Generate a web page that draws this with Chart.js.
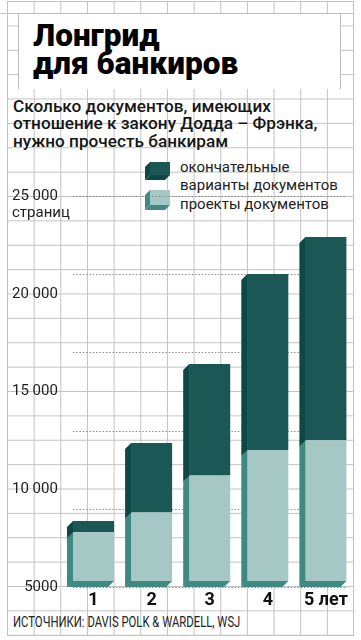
<!DOCTYPE html>
<html><head><meta charset="utf-8">
<script src="https://cdn.jsdelivr.net/npm/chart.js@4.4.1/dist/chart.umd.min.js"></script>
<style>
html,body{margin:0;padding:0;background:#fff;}
body{width:361px;height:640px;position:relative;overflow:hidden;font-family:Roboto,"DejaVu Sans",sans-serif;color:#1a1a1a;}
#paper{position:absolute;left:6.67px;top:1px;width:346.67px;height:634px;
 background-image:linear-gradient(to right,#c2c2c2 1px,transparent 1px),linear-gradient(to bottom,#c2c2c2 1px,transparent 1px);
 background-size:26.667px 24.385px;border-right:1px solid #c2c2c2;border-bottom:1px solid #c2c2c2;}
#hline{position:absolute;left:0;top:13px;width:354px;height:1px;background:#c2c2c2;}
#titlebox{position:absolute;left:18px;top:13px;width:321px;height:75px;background:#fff;border:1.5px solid #bdbdbd;border-bottom:none;}
#title{position:absolute;left:33px;top:22px;font-size:31.5px;font-weight:900;line-height:28px;color:#000;white-space:nowrap;}
#subtitle{position:absolute;left:13px;top:97.6px;font-size:17.2px;font-weight:500;line-height:17.5px;white-space:nowrap;color:#161616;}
.lgt{position:absolute;left:180px;font-size:15px;line-height:15px;white-space:nowrap;color:#222;}
.sw{position:absolute;left:145px;}
#source{position:absolute;left:13px;top:615px;font-size:14px;line-height:14px;white-space:nowrap;color:#222;transform-origin:0 0;}
#c{position:absolute;left:0;top:0;}
</style></head>
<body>
<div id="paper"></div>
<div id="hline"></div>
<div id="titlebox"></div>
<div id="title">Лонгрид<br>для банкиров</div>
<div id="subtitle">Сколько документов, имеющих<br>отношение к закону Додда – Фрэнка,<br>нужно прочесть банкирам</div>
<svg class="sw" style="top:162px" width="26" height="19"><polygon points="5,0 0,5 0,18 5,13" fill="#0d4845"/><polygon points="0,18 20,18 25,13 5,13" fill="#0d4845"/><rect x="5" y="0" width="20" height="13" fill="#1b5755"/></svg>
<svg class="sw" style="top:190px" width="26" height="21"><polygon points="5,0 0,5 0,20 5,15" fill="#3e8a83"/><polygon points="0,20 20,20 25,15 5,15" fill="#3e8a83"/><rect x="5" y="0" width="20" height="15" fill="#a6c8c5"/></svg>
<div class="lgt" style="top:160.4px">окончательные</div>
<div class="lgt" style="top:178.4px">варианты документов</div>
<div class="lgt" style="top:197.4px">проекты документов</div>
<div id="source">ИСТОЧНИКИ: DAVIS POLK &amp; WARDELL, WSJ</div>
<canvas id="c" width="361" height="640"></canvas>
<script>
// ---- data ----
const CATEGORIES = ['1', '2', '3', '4', '5 лет'];
const DRAFTS = [7500, 8500, 10400, 11700, 12200];          // проекты документов (light)
const FINALS = [570, 3560, 5700, 9000, 10400];             // окончательные варианты (dark, stacked on top)
const Y_TICK_VALUES = [5000, 10000, 15000, 20000, 25000];
const Y_TICK_LABELS = ['\u2007 5000', '10 000', '15 000', '20 000', '25 000'];
const Y_UNIT = 'страниц';
const GUIDE_VALUES = [5000, 9000, 13000, 17000, 21000, 25000];
const Y_MIN = 5000, Y_MAX = 25000;

const SOURCE_W = 227;
const src = document.getElementById('source');
src.style.transform = 'scaleX(' + (SOURCE_W / src.scrollWidth) + ')';

const Y_AXIS_W = 52.45;
const DX = 6, DY = 6;
const bar3d = {
  id: 'bar3d',
  beforeDatasetsDraw(chart) {
    const ctx = chart.ctx;
    const ys = chart.scales.y;
    const m0 = chart.getDatasetMeta(0);
    const first = m0.data[0], last = m0.data[m0.data.length - 1];
    const xa = first.x - first.width / 2, xb = last.x + last.width / 2;
    ctx.save();
    ctx.strokeStyle = '#878787'; ctx.lineWidth = 1.2; ctx.setLineDash([1.4, 1.9]);
    GUIDE_VALUES.forEach(v => {
      const py = Math.round(ys.getPixelForValue(v)) + 0.5;
      ctx.beginPath(); ctx.moveTo(xa, py); ctx.lineTo(xb, py); ctx.stroke();
    });
    ctx.restore();
    ctx.save();
    chart.data.datasets.forEach((ds, di) => {
      const meta = chart.getDatasetMeta(di);
      ctx.fillStyle = ds.sideColor;
      meta.data.forEach(el => {
        const x0 = el.x - el.width / 2, x1 = el.x + el.width / 2;
        const top = el.y, base = el.base;
        ctx.beginPath();
        ctx.moveTo(x0, top - DY); ctx.lineTo(x0 - DX, top); ctx.lineTo(x0 - DX, base); ctx.lineTo(x0 + 0.5, base - DY); ctx.lineTo(x0 + 0.5, top - DY);
        ctx.closePath(); ctx.fill();
        if (di === 0) {
          ctx.beginPath();
          ctx.moveTo(x0 - DX, base); ctx.lineTo(x1 - DX, base); ctx.lineTo(x1, base - DY); ctx.lineTo(x0, base - DY - 0.5);
          ctx.closePath(); ctx.fill();
        }
      });
    });
    ctx.restore();
    ctx.save();
    ctx.translate(0, -DY);
  },
  afterDatasetsDraw(chart) { chart.ctx.restore(); }
};

new Chart(document.getElementById('c'), {
  type: 'bar',
  data: {
    labels: CATEGORIES,
    datasets: [
      { label: 'проекты документов', data: DRAFTS, base: Y_MIN, backgroundColor: '#a6c8c5', sideColor: '#3e8a83', borderWidth: 0, clip: false },
      { label: 'окончательные варианты документов', data: FINALS, backgroundColor: '#1b5755', sideColor: '#0d4845', borderWidth: 0, clip: false }
    ]
  },
  options: {
    responsive: false, animation: false, devicePixelRatio: 1,
    layout: { padding: { top: 196, left: 12, right: 6.05, bottom: 0 } },
    plugins: { legend: { display: false }, tooltip: { enabled: false }, title: { display: false } },
    datasets: { bar: { categoryPercentage: 1, barPercentage: 0.706 } },
    scales: {
      x: {
        stacked: true, offset: true,
        border: { display: false }, grid: { display: false, drawTicks: false },
        ticks: { padding: 3, color: '#111', maxRotation: 0, autoSkip: false,
          font: { family: 'Roboto', size: 18, weight: 'bold', lineHeight: 1.2 } },
        afterFit(s) { s.height = 53; }
      },
      y: {
        stacked: true, min: Y_MIN, max: Y_MAX,
        border: { display: false }, grid: { display: false, drawTicks: false },
        afterBuildTicks(s) { s.ticks = Y_TICK_VALUES.map(v => ({ value: v })); },
        ticks: {
          mirror: true, padding: -Y_AXIS_W, crossAlign: 'near', color: '#1e1e1e', labelOffset: 8.5,
          font: { family: 'Roboto', size: 15, lineHeight: '17px' },
          callback(v) {
            const i = Y_TICK_VALUES.indexOf(v);
            if (i < 0) return '';
            return v === Y_MAX ? [Y_TICK_LABELS[i], Y_UNIT] : [Y_TICK_LABELS[i], ''];
          }
        },
        afterFit(s) { s.width = Y_AXIS_W; }
      }
    }
  },
  plugins: [bar3d]
});
</script>
</body></html>
